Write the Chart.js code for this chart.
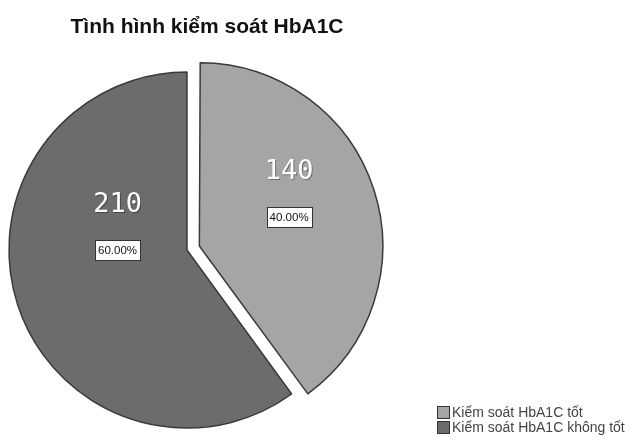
<!DOCTYPE html>
<html>
<head>
<meta charset="utf-8">
<script src="https://cdn.jsdelivr.net/npm/chart.js@4"></script>
<style>
  html, body { margin: 0; padding: 0; background: #fff; }
  #wrap { width: 632px; height: 442px; }
</style>
</head>
<body>
<div id="wrap"><canvas id="mychart" width="632" height="442"></canvas></div>
<script>
// data
const categories = ['Kiểm soát HbA1C tốt', 'Kiểm soát HbA1C không tốt'];
const counts = [140, 210];
const sliceColors = ['#a5a5a5', '#6c6c6c'];
const chartTitle = 'Tình hình kiểm soát HbA1C';

// where the labels sit inside each slice (angle in radians, fraction of radius)
const labelSpots = [{ angle: null, frac: 0.5 }, { angle: Math.PI, frac: 0.39 }];

const total = counts.reduce((a, b) => a + b, 0);

const extras = {
  id: 'extras',
  afterDraw(chart) {
    const ctx = chart.ctx;
    const meta = chart.getDatasetMeta(0);

    // title
    ctx.save();
    ctx.fillStyle = '#111';
    ctx.font = 'bold 21px "Liberation Sans", Arial, sans-serif';
    ctx.textAlign = 'center';
    ctx.textBaseline = 'alphabetic';
    ctx.fillText(chartTitle, 207, 33);
    ctx.restore();

    // slice labels
    meta.data.forEach((arc, i) => {
      const p = arc.getProps(['x', 'y', 'startAngle', 'endAngle', 'outerRadius', 'circumference']);
      const mid = (p.startAngle + p.endAngle) / 2;
      const off = (arc.options.offset || 0) / 4;
      const fix = 1 - Math.sin(Math.min(Math.PI, p.circumference || 0));
      const shift = off + off * fix;
      const cx = p.x + Math.cos(mid) * shift;
      const cy = p.y + Math.sin(mid) * shift;
      const spot = labelSpots[i];
      const a = spot.angle === null ? mid : spot.angle;
      const bx = cx + Math.cos(a) * p.outerRadius * spot.frac;
      const by = cy + Math.sin(a) * p.outerRadius * spot.frac;

      ctx.save();
      ctx.font = '27px "DejaVu Sans Mono", monospace';
      ctx.textAlign = 'center';
      ctx.textBaseline = 'middle';
      ctx.fillStyle = 'rgba(0,0,0,0.35)';
      ctx.fillText(String(counts[i]), bx + 1, by - 45 + 1);
      ctx.fillStyle = '#fff';
      ctx.fillText(String(counts[i]), bx, by - 45);

      const pct = (counts[i] / total * 100).toFixed(2) + '%';
      ctx.font = '11.5px "Liberation Sans", Arial, sans-serif';
      const w = ctx.measureText(pct).width + 6;
      const h = 20;
      ctx.fillStyle = '#fff';
      ctx.fillRect(Math.round(bx - w / 2) + 0.5, Math.round(by - h / 2) + 0.5, Math.round(w), h);
      ctx.strokeStyle = '#333';
      ctx.lineWidth = 1;
      ctx.strokeRect(Math.round(bx - w / 2) + 0.5, Math.round(by - h / 2) + 0.5, Math.round(w), h);
      ctx.fillStyle = '#111';
      ctx.fillText(pct, bx, by + 1);
      ctx.restore();
    });

    // legend, bottom right
    ctx.save();
    ctx.font = '14px "Liberation Sans", Arial, sans-serif';
    ctx.textBaseline = 'middle';
    categories.forEach((label, i) => {
      const y = 413 + i * 15;
      ctx.fillStyle = sliceColors[i];
      ctx.fillRect(437.5, y - 6.5, 12, 12);
      ctx.strokeStyle = '#333';
      ctx.lineWidth = 1;
      ctx.strokeRect(437.5, y - 6.5, 12, 12);
      ctx.fillStyle = '#444';
      ctx.fillText(label, 452, y);
    });
    ctx.restore();
  }
};

const c = document.getElementById('mychart').getContext('2d');
const mychart = new Chart(c, {
  type: 'pie',
  data: {
    labels: categories,
    datasets: [{
      data: counts,
      backgroundColor: sliceColors,
      borderColor: '#3a3a3a',
      borderWidth: 1.5,
      offset: [52, 0],
      radius: 178
    }]
  },
  options: {
    responsive: false,
    animation: false,
    layout: { padding: { left: 0, right: 258, top: 58, bottom: 0 } },
    plugins: {
      legend: { display: false },
      title: { display: false },
      tooltip: { enabled: false }
    }
  },
  plugins: [extras]
});
</script>
</body>
</html>
